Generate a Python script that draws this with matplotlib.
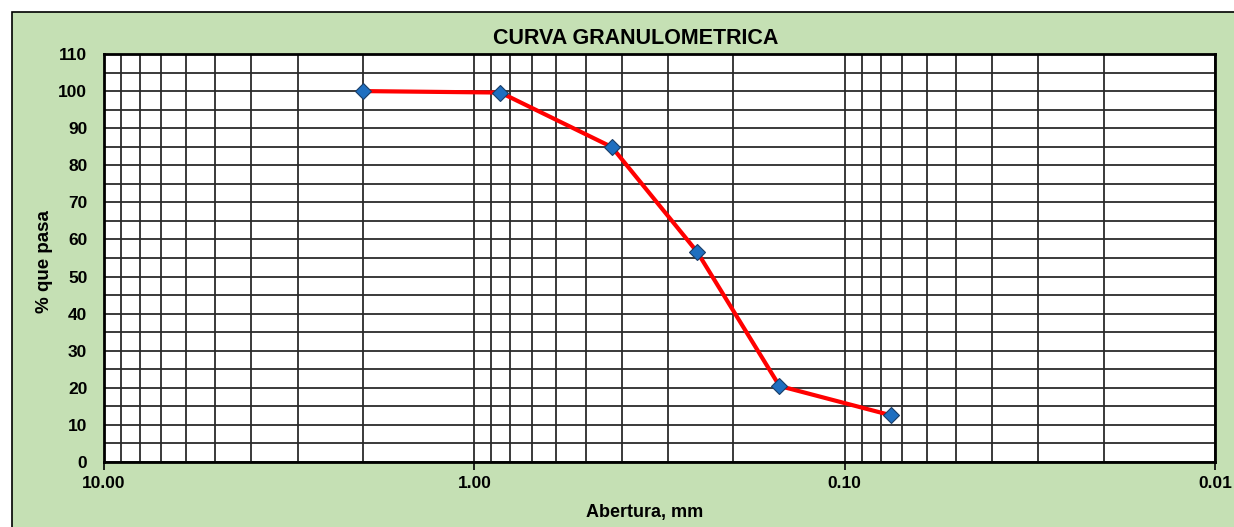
import matplotlib.pyplot as plt
from matplotlib.patches import Rectangle
from matplotlib.ticker import FixedLocator, LogLocator, NullFormatter, MultipleLocator

plt.rcParams['font.family'] = ['Liberation Sans', 'DejaVu Sans']
plt.rcParams['font.weight'] = 'bold'

# datos del ensayo
abertura = [2.0, 0.85, 0.425, 0.25, 0.15, 0.075]
pasa = [100.0, 99.6, 84.9, 56.6, 20.5, 12.6]
xticks = [10, 1, 0.1, 0.01]
xlabels = ['10.00', '1.00', '0.10', '0.01']

fig = plt.figure(figsize=(12.34, 5.27), dpi=100)
fig.patch.set_facecolor('white')

# marco verde del grafico
frame = Rectangle((12/1234, -0.05), 1.1, (527-12)/527 + 0.05, transform=fig.transFigure,
                  facecolor='#c5e0b4', edgecolor='black', linewidth=1.2, zorder=-10)
fig.patches.append(frame)

ax = fig.add_axes([104/1234, 1-462/527, (1215-104)/1234, (462-54)/527])
ax.set_facecolor('white')

ax.plot(abertura, pasa, color='#ff0000', linewidth=3, marker='D', markersize=8,
        markerfacecolor='#1f6fc0', markeredgecolor='#1a3d66', markeredgewidth=0.8, zorder=5)

ax.set_xscale('log')
ax.set_xlim(10, 0.01)
ax.set_ylim(0, 110)
ax.xaxis.set_major_locator(FixedLocator(xticks))
ax.set_xticklabels(xlabels)
ax.xaxis.set_minor_locator(LogLocator(base=10, subs=range(2, 10)))
ax.xaxis.set_minor_formatter(NullFormatter())
ax.yaxis.set_major_locator(MultipleLocator(10))
ax.yaxis.set_minor_locator(MultipleLocator(5))

ax.grid(True, which='both', color='#2b2b2b', linewidth=1.3)
ax.tick_params(axis='x', which='major', direction='out', length=6, width=1.2, pad=4, labelsize=12.5)
ax.tick_params(axis='x', which='minor', length=0)
ax.tick_params(axis='y', which='both', length=0, pad=12, labelsize=12.5)
for s in ax.spines.values():
    s.set_linewidth(2)
    s.set_color('black')

fig.text(636/1234, 1-38/527, 'CURVA GRANULOMETRICA', ha='center', va='center',
         fontsize=15.5, fontweight='bold', color='black')
fig.text(645/1234, 1-512/527, 'Abertura, mm', ha='center', va='center',
         fontsize=13, fontweight='bold')
fig.text(45/1234, 1-262/527, '% que pasa', ha='center', va='center', rotation=90,
         fontsize=13.5, fontweight='bold')

fig.savefig('out.png', dpi=100, facecolor=fig.get_facecolor())
